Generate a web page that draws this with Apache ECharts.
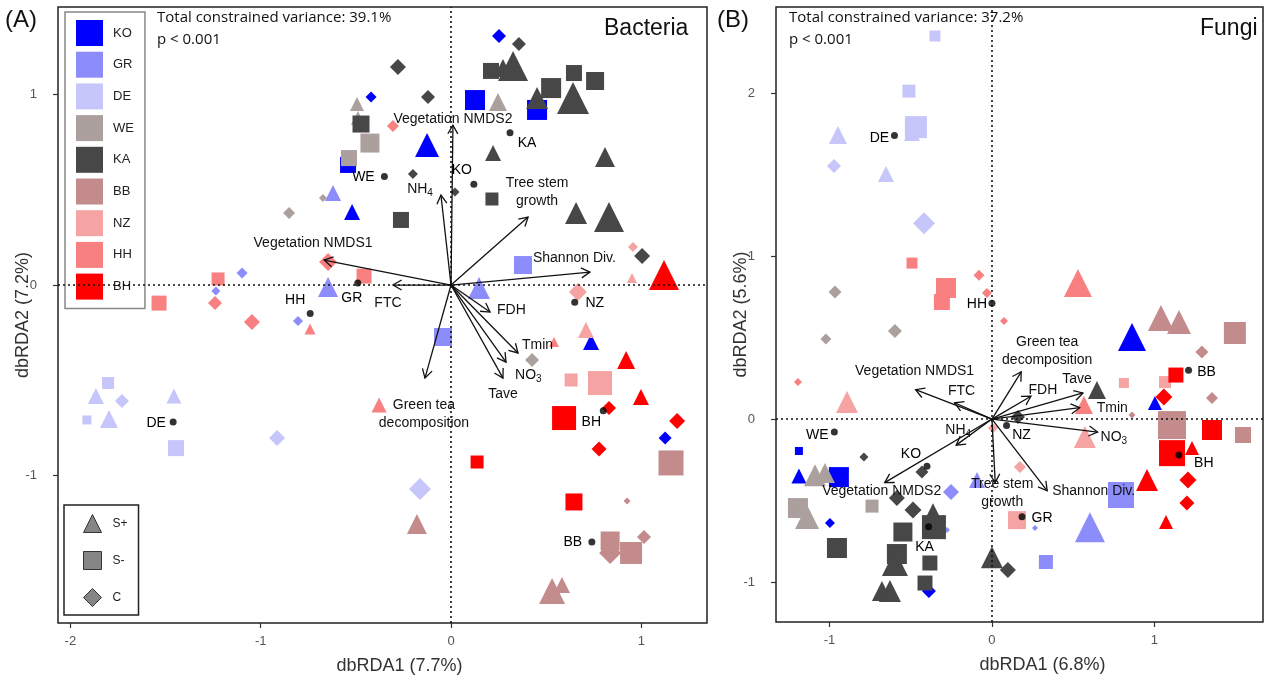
<!DOCTYPE html>
<html>
<head>
<meta charset="utf-8">
<script src="https://cdn.jsdelivr.net/npm/echarts@6/dist/echarts.min.js"></script>
<style>html,body{margin:0;padding:0;background:#fff}#c{width:1264px;height:680px}</style>
</head>
<body>
<div id="c"></div>
<script>
// ---------- DATA ----------
const sites = ['KO','GR','DE','WE','KA','BB','NZ','HH','BH'];
const treatments = ['S+','S-','C'];

// Bacteria samples: [dbRDA1, dbRDA2, treatment, magnitude]
const bacKO = [[0.252,1.309,'C',7],[-0.420,0.988,'C',5.5],[0.126,0.972,'S-',10],[0.452,0.920,'S-',10],[-0.126,0.736,'S+',12],[-0.541,0.631,'S-',8],[-0.520,0.384,'S+',8],[0.736,-0.300,'S+',8],[1.125,-0.804,'C',6.5]];
const bacGR = [[-0.620,0.483,'S+',8],[-0.646,-0.011,'S+',10],[0.378,0.105,'S-',9],[0.147,-0.016,'S+',11],[-0.042,-0.273,'S-',9],[-1.098,0.063,'C',5.5],[-1.235,-0.032,'C',4.5],[-0.804,-0.189,'C',5]];
const bacDE = [[-1.802,-0.515,'S-',6],[-1.866,-0.583,'S+',8],[-1.729,-0.610,'C',7],[-1.913,-0.709,'S-',4.5],[-1.797,-0.704,'S+',9],[-1.456,-0.583,'S+',7.5],[-1.445,-0.857,'S-',8],[-0.914,-0.804,'C',8],[-0.163,-1.072,'C',11]];
const bacWE = [[-0.494,0.951,'S+',7],[-0.489,0.878,'S+',7],[0.247,0.962,'S+',9],[-0.426,0.746,'S-',9.5],[-0.536,0.667,'S-',8],[-0.673,0.457,'C',4],[-0.851,0.378,'C',6],[0.426,-0.394,'C',7]];
const bacKA = [[0.357,1.266,'C',7],[-0.279,1.146,'C',8],[0.210,1.125,'S-',8],[0.273,1.140,'S+',9],[0.326,1.151,'S+',15],[0.646,1.114,'S-',8],[0.526,1.035,'S-',10],[0.757,1.072,'S-',9],[0.452,0.983,'S+',11],[0.641,0.983,'S+',16],[-0.121,0.988,'C',7],[-0.473,0.846,'S-',8.5],[-0.200,0.583,'C',5],[0.021,0.489,'C',4.5],[0.215,0.452,'S-',6.5],[-0.263,0.342,'S-',8],[0.657,0.378,'S+',11],[0.830,0.357,'S+',15],[0.221,0.694,'S+',8],[0.809,0.673,'S+',10],[1.004,0.152,'C',8]];
const bacBB = [[0.925,-1.135,'C',3.5],[1.156,-0.935,'S-',12.5],[-0.179,-1.256,'S+',10],[0.836,-1.345,'S-',9.5],[0.836,-1.408,'C',11],[0.946,-1.408,'S-',11],[1.014,-1.324,'C',7],[0.531,-1.608,'S+',13],[0.583,-1.576,'S+',8]];
const bacNZ = [[0.956,0.200,'C',5],[0.951,0.037,'S+',5],[0.667,-0.037,'C',9],[0.709,-0.236,'S+',8],[0.631,-0.499,'S-',6.5],[0.783,-0.515,'S-',12]];
const bacHH = [[-0.305,0.836,'C',6],[-0.646,0.121,'C',9],[-0.457,0.047,'S-',7.5],[-1.224,0.032,'S-',6.5],[-1.240,-0.095,'C',7],[-1.534,-0.095,'S-',7.5],[-1.046,-0.194,'C',8],[-0.741,-0.231,'S+',5.5],[0.541,-0.300,'S+',5],[-0.378,-0.631,'S+',7.5]];
const bacBH = [[1.119,0.053,'S+',15],[0.920,-0.394,'S+',9],[0.998,-0.589,'S+',8],[0.594,-0.699,'S-',12],[0.830,-0.646,'C',7],[1.188,-0.715,'C',8],[0.778,-0.862,'C',7.5],[0.137,-0.930,'S-',6.5],[0.646,-1.140,'S-',8.5]];

// Fungi samples
const funKO = [[0.862,0.503,'S+',14],[1.003,0.098,'S+',7],[-1.188,-0.196,'S-',4],[-1.188,-0.350,'S+',7.5],[-0.942,-0.356,'S-',10],[-0.997,-0.638,'C',5],[-0.388,-1.055,'C',7]];
const funGR = [[-0.252,-0.448,'C',8],[-0.092,-0.374,'S+',8],[-0.277,-0.681,'C',3],[0.794,-0.466,'S-',13],[0.603,-0.663,'S+',15],[0.265,-0.669,'C',3],[0.332,-0.877,'S-',7]];
const funDE = [[-0.351,2.350,'S-',5.5],[-0.511,2.012,'S-',6.5],[-0.492,1.755,'S+',8],[-0.468,1.791,'S-',11],[-0.948,1.742,'S+',9],[-0.972,1.552,'C',7],[-0.652,1.503,'S+',8],[-0.418,1.202,'C',11]];
const funWE = [[-0.966,0.779,'C',6.5],[-0.597,0.540,'C',7],[-1.022,0.491,'C',5.5],[-1.089,-0.344,'S+',11],[-1.028,-0.331,'S+',10],[-0.738,-0.534,'S-',6.5],[-1.194,-0.546,'S-',10],[-1.138,-0.601,'S+',12]];
const funKA = [[-0.788,-0.233,'C',4.5],[-0.431,-0.325,'C',6.5],[-0.585,-0.485,'C',8],[-0.486,-0.558,'C',8.5],[-0.363,-0.571,'S+',9],[-0.357,-0.663,'S-',12],[-0.548,-0.693,'S-',9.5],[-0.954,-0.791,'S-',10],[-0.585,-0.828,'S-',10],[-0.597,-0.883,'S+',13],[-0.382,-0.883,'S-',7.5],[-0.677,-1.055,'S+',10],[-0.628,-1.055,'S+',11],[-0.412,-1.006,'S-',7.5],[0.646,0.178,'S+',9],[0.160,0.012,'C',7],[0.0,-0.847,'S+',11],[0.098,-0.926,'C',8]];
const funBB = [[1.040,0.620,'S+',13],[1.151,0.595,'S+',12],[1.495,0.528,'S-',11],[1.292,0.411,'C',6.5],[1.354,0.129,'C',6],[0.862,0.025,'C',3.5],[1.108,-0.037,'S-',14],[1.545,-0.098,'S-',8]];
const funNZ = [[-0.892,0.104,'S+',11],[0.812,0.221,'S-',5],[1.065,0.227,'S-',6],[0.572,-0.110,'S+',11],[0.006,-0.055,'C',5],[0.172,-0.294,'C',6],[0.154,-0.620,'S-',9]];
const funHH = [[-0.492,0.957,'S-',5.5],[-0.283,0.804,'S-',10],[-0.308,0.718,'S-',8],[-0.080,0.883,'C',5.5],[-0.031,0.773,'C',5],[0.529,0.834,'S+',14],[-1.194,0.227,'C',4],[0.074,0.601,'C',4],[0.566,0.086,'S+',9]];
const funBH = [[1.132,0.270,'S-',7.5],[1.058,0.135,'C',8.5],[1.354,-0.067,'S-',10],[1.108,-0.209,'S-',13],[1.231,-0.178,'S+',7],[0.954,-0.374,'S+',11],[1.206,-0.374,'C',8.5],[1.200,-0.515,'C',7.5],[1.071,-0.632,'S+',7]];

// Site centroids: [site, dbRDA1, dbRDA2]
const bacCentroids = [['KO',0.12,0.53],['GR',-0.49,0.01],['DE',-1.46,-0.72],['WE',-0.35,0.57],['KA',0.31,0.80],['BB',0.74,-1.35],['NZ',0.65,-0.09],['HH',-0.74,-0.15],['BH',0.80,-0.66]];
const funCentroids = [['KO',-0.40,-0.29],['GR',0.185,-0.60],['DE',-0.60,1.74],['WE',-0.97,-0.08],['KA',-0.39,-0.66],['BB',1.21,0.30],['NZ',0.09,-0.04],['HH',0.0,0.71],['BH',1.15,-0.22]];

// Environmental vectors: [variable, dbRDA1, dbRDA2]
const bacArrows = [['Vegetation NMDS2',0.01,0.84],['NH4',-0.053,0.473],['Tree stem growth',0.405,0.357],['Vegetation NMDS1',-0.667,0.131],['FTC',-0.305,0.0],['Shannon Div.',0.730,0.068],['FDH',0.205,-0.142],['Tmin',0.352,-0.357],['NO3',0.289,-0.405],['Tave',0.273,-0.489],['Green tea decomposition',-0.137,-0.489]];
const funArrows = [['Vegetation NMDS1',-0.47,0.18],['FTC',-0.23,0.10],['NH4',-0.22,-0.16],['Vegetation NMDS2',-0.66,-0.39],['Tree stem growth',0.02,-0.39],['Shannon Div.',0.34,-0.44],['NO3',0.65,-0.08],['Tmin',0.54,0.07],['Tave',0.56,0.16],['FDH',0.24,0.14],['Green tea decomposition',0.18,0.29]];

// Axis ticks
const bacXTicks = [-2,-1,0,1];
const bacYTicks = [-1,0,1];
const funXTicks = [-1,0,1];
const funYTicks = [-1,0,1,2];

// ---------- STYLE ----------
const siteColors = {KO:'#0000FF',GR:'#8C8CFA',DE:'#C6C6FA',WE:'#ACA09F',KA:'#474747',BB:'#C38B8B',NZ:'#F5A3A3',HH:'#F98080',BH:'#FF0000'};
const shapeSymbol = {'S+':'triangle','S-':'rect','C':'diamond'};
const drawOrder = ['KO','GR','DE','WE','KA','NZ','HH','BB','BH'];
const bacSets = {KO:bacKO,GR:bacGR,DE:bacDE,WE:bacWE,KA:bacKA,BB:bacBB,NZ:bacNZ,HH:bacHH,BH:bacBH};
const funSets = {KO:funKO,GR:funGR,DE:funDE,WE:funWE,KA:funKA,BB:funBB,NZ:funNZ,HH:funHH,BH:funBH};
const FONT = '"Liberation Sans", Arial, sans-serif';

const bacCentLabel = {KO:[-12,-14],WE:[-21,1],KA:[17,10],GR:[-6,15],HH:[-15,-13],NZ:[20,1],DE:[-17,1],BH:[-12,12],BB:[-19,0]};
const funCentLabel = {DE:[-15,3],HH:[-15,1],WE:[-17,3],KO:[-16,-12],KA:[-4,20],NZ:[15,10],GR:[20,1],BB:[18,2],BH:[25,8]};

const bacArrowLabel = {'Vegetation NMDS2':[0,-6,'center'],'NH4':[-8,-6,'right'],'Tree stem growth':[9,-25,'center'],'Vegetation NMDS1':[-11,-17,'center'],'FTC':[-5,18,'center'],'Shannon Div.':[-57,-14,'left'],'FDH':[7,-2,'left'],'Tmin':[4,-8,'left'],'NO3':[9,13,'left'],'Tave':[0,16,'center'],'Green tea decomposition':[-1,36,'center']};
const funArrowLabel = {'Vegetation NMDS1':[-1,-19,'center'],'FTC':[7,-12,'center'],'NH4':[2,-15,'center'],'Vegetation NMDS2':[-3,9,'center'],'Tree stem growth':[7,11,'center'],'Shannon Div.':[5,0,'left'],'NO3':[3,5,'left'],'Tmin':[17,0,'left'],'Tave':[-6,-14,'center'],'FDH':[12,-6,'center'],'Green tea decomposition':[26,-21,'center']};

function fmtLabel(n){
  if(n==='NH4') return 'NH{sub|4}';
  if(n==='NO3') return 'NO{sub|3}';
  if(n==='Tree stem growth') return 'Tree stem\ngrowth';
  if(n==='Green tea decomposition') return 'Green tea\ndecomposition';
  return n;
}

function arrowRenderer(list, place){
  return function(params, api){
    const item = list[params.dataIndex];
    const o = api.coord([0,0]);
    const t = api.coord([api.value(0), api.value(1)]);
    const ang = Math.atan2(t[1]-o[1], t[0]-o[0]);
    const L = 10, a = Math.PI/6;
    const h1 = [t[0]-L*Math.cos(ang-a), t[1]-L*Math.sin(ang-a)];
    const h2 = [t[0]-L*Math.cos(ang+a), t[1]-L*Math.sin(ang+a)];
    const p = place[item[0]];
    return {type:'group', children:[
      {type:'line', shape:{x1:o[0],y1:o[1],x2:t[0],y2:t[1]}, style:{stroke:'#111',lineWidth:1.3}},
      {type:'polyline', shape:{points:[h1,t,h2]}, style:{stroke:'#111',lineWidth:1.3,fill:'none'}},
      {type:'text', x:t[0]+p[0], y:t[1]+p[1], style:{
        text: fmtLabel(item[0]), align:p[2], verticalAlign:'middle', fill:'#111',
        fontSize:14, fontFamily:FONT, lineHeight:18,
        rich:{sub:{fontSize:10, fontFamily:FONT, fill:'#111', padding:[8,0,0,0]}}
      }}
    ]};
  };
}

const series = [];
[0,1].forEach(function(g){
  series.push({type:'scatter', name:'_zero'+g, xAxisIndex:g, yAxisIndex:g, data:[], z:1, silent:true,
    markLine:{silent:true, symbol:['none','none'], label:{show:false}, animation:false,
      lineStyle:{type:[2,3], color:'#111', width:1.6}, emphasis:{disabled:true},
      data:[{xAxis:0},{yAxis:0}]}});
});
[[bacSets,0],[funSets,1]].forEach(function(pair){
  const sets = pair[0], g = pair[1];
  drawOrder.forEach(function(site){
    series.push({
      type:'scatter', name:site, xAxisIndex:g, yAxisIndex:g, z:2,
      itemStyle:{color:siteColors[site], opacity:1},
      emphasis:{disabled:true},
      data: sets[site].map(function(d){
        return {value:[d[0],d[1]], symbol:shapeSymbol[d[2]], symbolSize:d[3]*2};
      })
    });
  });
});
treatments.forEach(function(t){
  series.push({type:'scatter', name:t, xAxisIndex:0, yAxisIndex:0, data:[], itemStyle:{color:'#666'}});
});
series.push({type:'custom', name:'_arrB', xAxisIndex:0, yAxisIndex:0, z:3, silent:true,
  renderItem: arrowRenderer(bacArrows, bacArrowLabel), data: bacArrows.map(a=>[a[1],a[2]])});
series.push({type:'custom', name:'_arrF', xAxisIndex:1, yAxisIndex:1, z:3, silent:true,
  renderItem: arrowRenderer(funArrows, funArrowLabel), data: funArrows.map(a=>[a[1],a[2]])});
[[bacCentroids,bacCentLabel,0],[funCentroids,funCentLabel,1]].forEach(function(t){
  series.push({type:'scatter', name:'_cent'+t[2], xAxisIndex:t[2], yAxisIndex:t[2], z:4,
    symbol:'circle', symbolSize:7, itemStyle:{color:'#000'}, emphasis:{disabled:true},
    label:{show:true, position:'inside', color:'#000', opacity:1, textBorderWidth:0, fontSize:14, fontFamily:FONT, formatter:'{b}'},
    data: t[0].map(function(c){ return {name:c[0], value:[c[1],c[2]], label:{offset:t[1][c[0]]}}; })
  });
});

function xAxis(g, min, max, ticks, name, shift){
  return {type:'value', gridIndex:g, min:min, max:max, name:name, nameLocation:'middle', nameGap:34, nameMoveOverlap:false,
    nameTextStyle:{fontSize:18, color:'#333', fontFamily:FONT, padding:[0,0,0,shift]},
    axisLine:{show:false, onZero:false}, splitLine:{show:false},
    axisTick:{show:true, inside:false, length:5, customValues:ticks, lineStyle:{color:'#333', width:1.2}},
    axisLabel:{customValues:ticks, margin:12, fontSize:13, color:'#555', fontFamily:FONT}};
}
function yAxis(g, min, max, ticks, name){
  return {type:'value', gridIndex:g, min:min, max:max, name:name, nameLocation:'middle', nameGap:26, nameMoveOverlap:false,
    nameTextStyle:{fontSize:18, color:'#333', fontFamily:FONT},
    axisLine:{show:false, onZero:false}, splitLine:{show:false},
    axisTick:{show:true, inside:false, length:5, customValues:ticks, lineStyle:{color:'#333', width:1.2}},
    axisLabel:{customValues:ticks, margin:21, fontSize:13, color:'#555', fontFamily:FONT}};
}

const titleFont = {fontSize:15, fontWeight:'normal', color:'#111', fontFamily:'"Open Sans"'};
const option = {
  animation:false,
  backgroundColor:'#fff',
  grid:[
    {left:58, top:7, width:649, height:616, show:true, borderColor:'#222', borderWidth:1.5, backgroundColor:'transparent', containLabel:false, outerBoundsMode:'none'},
    {left:776, top:7, width:487, height:615, show:true, borderColor:'#222', borderWidth:1.5, backgroundColor:'transparent', containLabel:false, outerBoundsMode:'none'}
  ],
  xAxis:[xAxis(0,-2.065,1.345,bacXTicks,'dbRDA1 (7.7%)',34), xAxis(1,-1.329,1.668,funXTicks,'dbRDA1 (6.8%)',46)],
  yAxis:[yAxis(0,-1.776,1.461,bacYTicks,'dbRDA2 (7.2%)'), yAxis(1,-1.245,2.528,funYTicks,'dbRDA2 (5.6%)')],
  title:[
    {text:'(A)', left:5, top:8, padding:0, textStyle:{fontSize:24, fontWeight:'normal', color:'#111', fontFamily:FONT}},
    {text:'(B)', left:717, top:8, padding:0, textStyle:{fontSize:24, fontWeight:'normal', color:'#111', fontFamily:FONT}},
    {text:'Total constrained variance: 39.1%', left:157, top:10, padding:0, textStyle:titleFont},
    {text:'p < 0.001', left:157, top:32, padding:0, textStyle:titleFont},
    {text:'Total constrained variance: 37.2%', left:789, top:10, padding:0, textStyle:titleFont},
    {text:'p < 0.001', left:789, top:32, padding:0, textStyle:titleFont},
    {text:'Bacteria', left:604, top:17, padding:0, textStyle:{fontSize:23, fontWeight:'normal', color:'#111', fontFamily:FONT}},
    {text:'Fungi', left:1200, top:17, padding:0, textStyle:{fontSize:23, fontWeight:'normal', color:'#111', fontFamily:FONT}}
  ],
  legend:[
    {data: sites.map(s=>({name:s, icon:'rect'})), orient:'vertical', left:65, top:12,
     itemWidth:27, itemHeight:26, itemGap:5.7, padding:[8,11,9,11], selectedMode:false,
     borderColor:'#888', borderWidth:1.5, backgroundColor:'#fff',
     itemStyle:{borderWidth:0},
     textStyle:{fontSize:13, color:'#222', fontFamily:FONT, padding:[0,0,0,5]}},
    {data: [{name:'S+',icon:'triangle'},{name:'S-',icon:'rect'},{name:'C',icon:'diamond'}], orient:'vertical', left:64, top:505,
     itemWidth:18, itemHeight:18, itemGap:18, padding:[9,11,8,19], selectedMode:false,
     borderColor:'#222', borderWidth:1.5, backgroundColor:'#fff',
     itemStyle:{color:'#666', borderColor:'#111', borderWidth:1},
     textStyle:{fontSize:12, color:'#222', fontFamily:FONT, padding:[0,0,0,6]}}
  ],
  series: series
};

const chart = echarts.init(document.getElementById('c'), null, {renderer:'canvas'});
chart.setOption(option);
</script>
</body>
</html>
